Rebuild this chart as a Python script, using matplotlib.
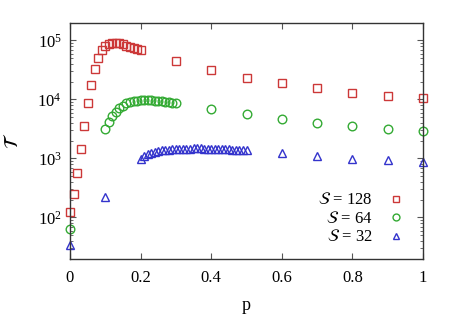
import matplotlib
matplotlib.use("Agg")
import matplotlib.pyplot as plt
from matplotlib.ticker import LogLocator, FixedLocator, FuncFormatter, NullFormatter

# ---- data ----
p128 = [0.0, 0.01, 0.02, 0.03, 0.04, 0.05, 0.06, 0.07, 0.08, 0.09, 0.10,
        0.11, 0.12, 0.13, 0.14, 0.15, 0.16, 0.17, 0.18, 0.19, 0.20,
        0.3, 0.4, 0.5, 0.6, 0.7, 0.8, 0.9, 1.0]
T128 = [126, 250, 572, 1460, 3580, 8550, 17700, 33000, 50900, 69500, 81300,
        87900, 91500, 91500, 90000, 85600, 80000, 76100, 73200, 71200, 69500,
        45300, 31400, 23300, 18700, 15800, 12800, 11400, 10500]

p64 = [0.0, 0.10, 0.11, 0.12, 0.13, 0.14, 0.15, 0.16, 0.17, 0.18, 0.19, 0.20,
       0.21, 0.22, 0.23, 0.24, 0.25, 0.26, 0.27, 0.28, 0.29, 0.30,
       0.4, 0.5, 0.6, 0.7, 0.8, 0.9, 1.0]
T64 = [63, 3100, 4070, 5210, 6100, 7120, 7810, 8550, 8990, 9350, 9500, 9730,
       9730, 9730, 9730, 9600, 9450, 9250, 9100, 8950, 8750, 8600,
       6850, 5640, 4630, 4030, 3530, 3140, 2900]

p32 = [0.0, 0.1,
       0.20, 0.21, 0.22, 0.23, 0.24, 0.25, 0.26, 0.27, 0.28, 0.29,
       0.30, 0.31, 0.32, 0.33, 0.34, 0.35, 0.36, 0.37, 0.38, 0.39,
       0.40, 0.41, 0.42, 0.43, 0.44, 0.45, 0.46, 0.47, 0.48, 0.49, 0.50,
       0.6, 0.7, 0.8, 0.9, 1.0]
T32 = [33.5, 221,
       985, 1120, 1190, 1240, 1290, 1340, 1370, 1390, 1410, 1430,
       1445, 1455, 1465, 1470, 1475, 1480, 1480, 1480, 1475, 1470,
       1465, 1460, 1450, 1440, 1430, 1420, 1410, 1400, 1390, 1380, 1370,
       1230, 1110, 990, 925, 855]

labels = [r"$\mathcal{S}$ = 128", r"$\mathcal{S}$ = 64", r"$\mathcal{S}$ = 32"]
xticks = [0, 0.2, 0.4, 0.6, 0.8, 1.0]

# ---- style ----
plt.rcParams['font.family'] = ['Liberation Serif', 'DejaVu Serif']
plt.rcParams['mathtext.fontset'] = 'stix'
plt.rcParams['font.size'] = 12

fig = plt.figure(figsize=(4.57, 3.2), dpi=100)
ax = fig.add_axes([70/457, 1-258.7/320, (423-70)/457, (258.7-22.7)/320])

colors = ['#cc3838', '#33aa33', '#3333cc']
markers = ['s', 'o', '^']
sizes = [6.2, 6.2, 6.2]
for (px, ty, c, m, s, lab) in zip([p128, p64, p32], [T128, T64, T32],
                                  colors, markers, sizes, labels):
    ax.plot(px, ty, linestyle='none', marker=m, markersize=s,
            markerfacecolor='none', markeredgecolor=c, markeredgewidth=1.0,
            label=lab, clip_on=False)

ax.set_yscale('log')
ax.set_xlim(0, 1)
ax.set_ylim(20, 2e5)

ax.xaxis.set_major_locator(FixedLocator(xticks))
ax.xaxis.set_major_formatter(FuncFormatter(lambda v, pos: f"{v:g}"))
ax.yaxis.set_major_locator(LogLocator(base=10, numticks=10))
ax.yaxis.set_minor_locator(LogLocator(base=10, subs=range(2, 10), numticks=20))
ax.yaxis.set_minor_formatter(NullFormatter())

ax.tick_params(which='both', direction='in', top=True, right=True,
               color='#555555')
ax.tick_params(which='major', length=4.5, width=0.8, pad=8, labelsize=12)
ax.tick_params(which='minor', length=2.5, width=0.6)
ax.tick_params(axis='y', pad=6)
for sp in ax.spines.values():
    sp.set_color('#333333')
    sp.set_linewidth(1.0)

ax.set_xlabel('p', fontsize=13, labelpad=8)
ax.set_ylabel(r'$\mathcal{T}$', fontsize=14, labelpad=11)

leg = ax.legend(loc='lower right', frameon=False, markerfirst=False,
                fontsize=12, handlelength=1.0, handletextpad=0.9,
                labelspacing=0.15, borderaxespad=0.4, markerscale=0.8,
                bbox_to_anchor=(0.985, 0.0))
for t in leg.get_texts():
    t.set_ha('right')

fig.savefig('out.png', dpi=100)
